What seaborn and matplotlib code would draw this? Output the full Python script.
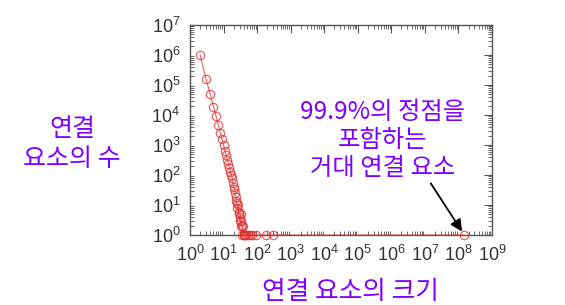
import matplotlib
matplotlib.use("Agg")
import matplotlib.pyplot as plt
import seaborn as sns
import numpy as np
import pandas as pd
from matplotlib.ticker import LogLocator, FixedLocator, NullFormatter

sns.set_theme(style="white")
plt.rcParams['font.family'] = ['Noto Sans CJK KR', 'DejaVu Sans']
plt.rcParams['mathtext.fontset'] = 'custom'
plt.rcParams['mathtext.rm'] = 'Liberation Sans'
plt.rcParams['mathtext.it'] = 'Liberation Sans'

# component sizes and number of components of each size
sizes = [2, 3, 4, 5, 6, 7, 8, 9, 10, 11, 12, 13, 14, 15, 16, 17, 18, 19, 20,
         21, 22, 23, 24, 25, 26, 27, 28, 29, 30, 31, 32, 33, 34, 35, 36, 38,
         40, 42, 45, 48, 52, 60, 70, 95, 190, 295, 1.5e8]
counts = [1.0e6, 1.6e5, 5.0e4, 1.9e4, 9.0e3, 4.6e3, 2.6e3, 1.6e3, 1.0e3,
          650, 450, 320, 230, 170, 130, 100, 80, 55, 40,
          35, 25, 18, 14, 12, 8, 10, 6, 5, 4, 3, 5, 2, 3, 2, 1, 2,
          1, 1, 1, 1, 1, 1, 1, 1, 1, 1, 1]

x_ticks = [1e0, 1e1, 1e2, 1e3, 1e4, 1e5, 1e6, 1e7, 1e8, 1e9]
x_tick_labels = [r'$10^{%d}$' % i for i in range(10)]
y_ticks = [1e0, 1e1, 1e2, 1e3, 1e4, 1e5, 1e6, 1e7]
y_tick_labels = [r'$10^{%d}$' % i for i in range(8)]

ylabel_text = "연결\n요소의 수"
xlabel_text = "연결 요소의 크기"
note_text = "99.9%의 정점을\n포함하는\n거대 연결 요소"

df = pd.DataFrame({"size": sizes, "count": counts})

fig = plt.figure(figsize=(5.65, 3.05), dpi=100)
ax = fig.add_axes([190/565, 1-235/305, (492-190)/565, (235-25)/305])

red = '#e03030'
sns.lineplot(data=df, x="size", y="count", ax=ax, estimator=None, sort=False,
             color=red, linewidth=0.8, alpha=0.75, marker='o', markersize=6,
             markerfacecolor='none', markeredgecolor=red, markeredgewidth=0.9,
             clip_on=False, zorder=3)

ax.set_xscale('log')
ax.set_yscale('log')
ax.set_xlim(1, 1e9)
ax.set_ylim(1, 1e7)
ax.set_xlabel('')
ax.set_ylabel('')

ax.xaxis.set_major_locator(FixedLocator(x_ticks))
ax.set_xticklabels(x_tick_labels)
ax.yaxis.set_major_locator(FixedLocator(y_ticks))
ax.set_yticklabels(y_tick_labels)
ax.xaxis.set_minor_locator(LogLocator(base=10, subs=np.arange(2, 10), numticks=20))
ax.yaxis.set_minor_locator(LogLocator(base=10, subs=np.arange(2, 10), numticks=20))
ax.xaxis.set_minor_formatter(NullFormatter())
ax.yaxis.set_minor_formatter(NullFormatter())

spc = '#555555'
for s in ax.spines.values():
    s.set_color(spc)
    s.set_linewidth(1.0)
ax.tick_params(which='major', direction='in', length=6, width=0.8, color=spc,
               top=True, right=True, labelsize=13, labelcolor='#333333')
ax.tick_params(axis='x', which='major', pad=7)
ax.tick_params(axis='y', which='major', pad=7)
ax.tick_params(which='minor', direction='in', length=3, width=0.6, color=spc,
               top=True, right=True, bottom=True, left=True)
ax.grid(False)

purple = '#7f00ff'
ax.annotate(note_text, xy=(1.5e8, 1), xycoords='data',
            xytext=(383/565, 1-140/305), textcoords='figure fraction',
            ha='center', va='center', fontsize=17.5, color=purple,
            linespacing=1.1, annotation_clip=False,
            arrowprops=dict(arrowstyle='-|>', color='black', lw=1.3,
                            shrinkA=2, shrinkB=3,
                            patchA=None, relpos=(0.78, 0)))

fig.text(72/565, 1-144/305, ylabel_text, ha='center', va='center',
         fontsize=18, color=purple, linespacing=1.2)
fig.text(350/565, 1-292/305, xlabel_text, ha='center', va='center',
         fontsize=18.5, color=purple)

fig.savefig('out.png', dpi=100, facecolor='white')
